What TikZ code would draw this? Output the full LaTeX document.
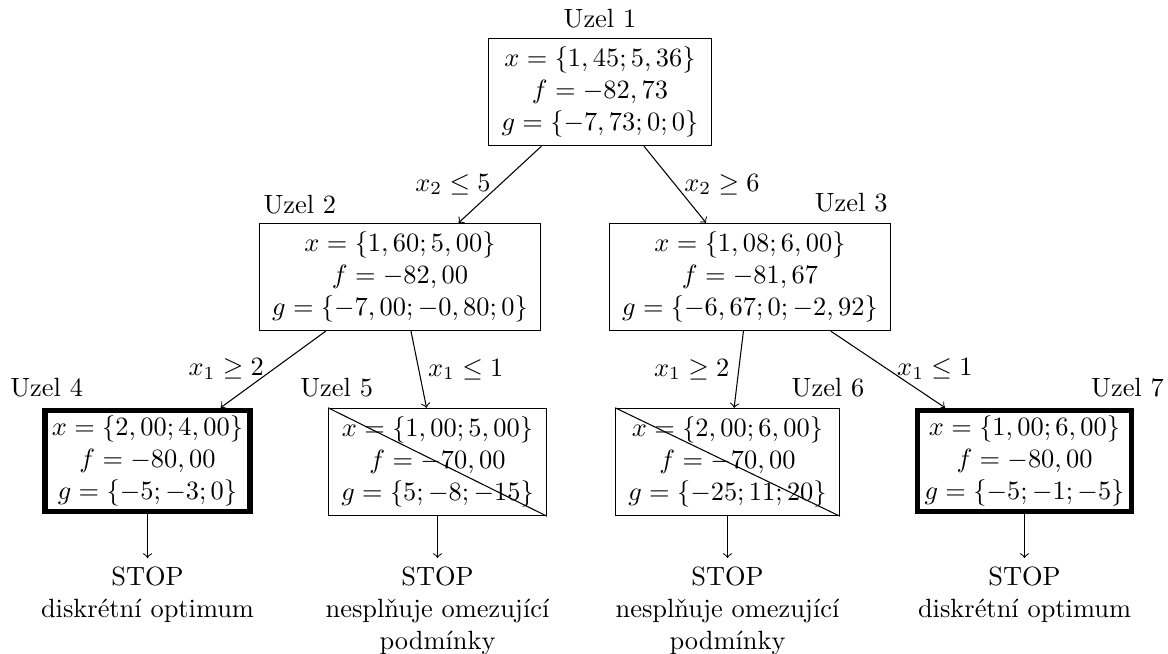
\documentclass[tikz,border=0pt]{standalone}
\begin{document}
\begin{tikzpicture}[x=0.3788pt,y=-0.3788pt,
  box/.style={draw, align=center, line width=0.4pt, inner xsep=4.8pt, inner ysep=3.33pt},
  optbox/.style={draw, align=center, line width=2pt, inner xsep=2.6pt, inner ysep=2.2pt},
  uzel/.style={inner sep=0pt},
  stopnode/.style={align=center, anchor=north, inner sep=3.33pt},
  conn/.style={->, line width=0.4pt},
  elabel/.style={midway, inner sep=3.33pt}]
\useasboundingbox (0,0) rectangle (1168,653);

% nodes
\node[box] (n1) at (600,92) {$x=\{1,45;5,36\}$\\ $f=-82,73$\\ $g=\{-7,73;0;0\}$};
\node[box] (n2) at (400,277) {$x=\{1,60;5,00\}$\\ $f=-82,00$\\ $g=\{-7,00;-0,80;0\}$};
\node[box] (n3) at (750,277) {$x=\{1,08;6,00\}$\\ $f=-81,67$\\ $g=\{-6,67;0;-2,92\}$};
\node[optbox] (n4) at (147.5,461) {$x=\{2,00;4,00\}$\\ $f=-80,00$\\ $g=\{-5;-3;0\}$};
\node[box] (n5) at (437.5,462) {$x=\{1,00;5,00\}$\\ $f=-70,00$\\ $g=\{5;-8;-15\}$};
\node[box] (n6) at (727.5,462) {$x=\{2,00;6,00\}$\\ $f=-70,00$\\ $g=\{-25;11;20\}$};
\node[optbox] (n7) at (1024.5,461) {$x=\{1,00;6,00\}$\\ $f=-80,00$\\ $g=\{-5;-1;-5\}$};

% crossing lines for infeasible nodes
\draw (n5.north west) -- (n5.south east);
\draw (n6.north west) -- (n6.south east);

% node titles
\node[uzel, anchor=base] (u1) at (600,28) {Uzel 1};
\node[uzel, anchor=base west] (u2) at (263,213) {Uzel 2};
\node[uzel, anchor=base east] (u3) at (888,212) {Uzel 3};
\node[uzel, anchor=base] (u4) at (46.7,396) {Uzel 4};
\node[uzel, anchor=base] (u5) at (336.7,396) {Uzel 5};
\node[uzel, anchor=base] (u6) at (828,396) {Uzel 6};
\node[uzel, anchor=base] (u7) at (1127.5,396) {Uzel 7};

% branching connectors
\draw[conn] (n1) -- node[elabel, left] (l12) {$x_2\le 5$} (n2);
\draw[conn] (n1) -- node[elabel, right] (l13) {$x_2\ge 6$} (n3);
\draw[conn] (n2) -- node[elabel, left] (l24) {$x_1\ge 2$} (n4);
\draw[conn] (n2) -- node[elabel, right] (l25) {$x_1\le 1$} (n5);
\draw[conn] (n3) -- node[elabel, left] (l36) {$x_1\ge 2$} (n6);
\draw[conn] (n3) -- node[elabel, right] (l37) {$x_1\le 1$} (n7);

% stop nodes
\node[stopnode] (s4) at (147.5,558) {STOP\\ diskrétní optimum};
\node[stopnode] (s5) at (437.5,558) {STOP\\ nesplňuje omezující\\ podmínky};
\node[stopnode] (s6) at (727.5,558) {STOP\\ nesplňuje omezující\\ podmínky};
\node[stopnode] (s7) at (1024.5,558) {STOP\\ diskrétní optimum};

\draw[conn] (n4) -- (s4);
\draw[conn] (n5) -- (s5);
\draw[conn] (n6) -- (s6);
\draw[conn] (n7) -- (s7);
\end{tikzpicture}
\end{document}
